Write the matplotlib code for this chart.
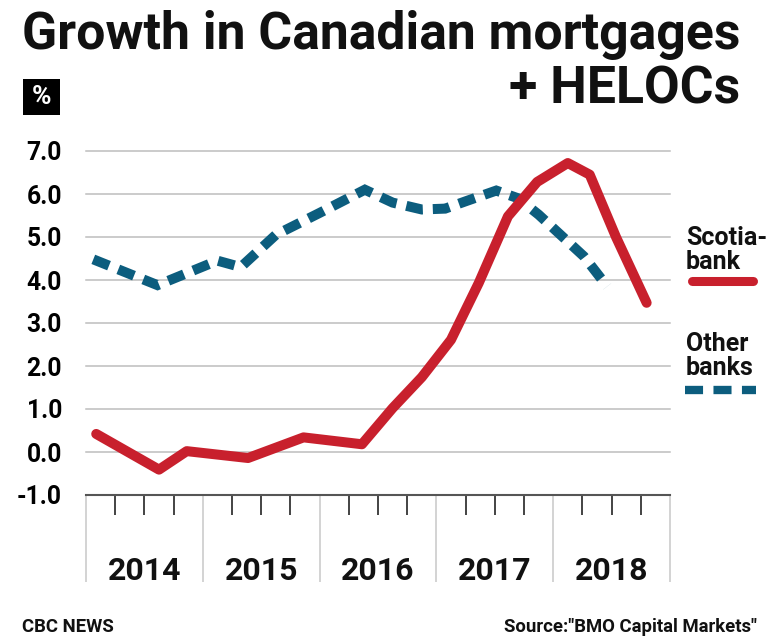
import matplotlib
matplotlib.use("Agg")
import matplotlib.pyplot as plt
from matplotlib.lines import Line2D
from matplotlib.patches import Rectangle
from matplotlib.transforms import blended_transform_factory

plt.rcParams['font.family'] = ['Roboto', 'DejaVu Sans']
plt.rcParams['lines.scale_dashes'] = False

# ---------------- data (x in quarters since start of 2014) ----------------
years = ["2014", "2015", "2016", "2017", "2018"]
y_ticks = [-1, 0, 1, 2, 3, 4, 5, 6, 7]
y_tick_labels = ["-1.0", "0.0", "1.0", "2.0", "3.0", "4.0", "5.0", "6.0", "7.0"]

scotia_x = [0.35, 2.5, 3.45, 5.55, 7.45, 9.45, 10.5, 11.5, 12.5, 13.45, 14.45,
            15.45, 16.5, 17.25, 18.15, 19.2]
scotia_y = [0.42, -0.41, 0.02, -0.14, 0.34, 0.18, 1.02, 1.74, 2.61, 3.93, 5.48,
            6.28, 6.72, 6.45, 5.0, 3.47]

other_x = [0.25, 2.45, 4.5, 5.3, 6.5, 8.0, 9.55, 10.5, 11.5, 12.3, 13.0, 14.05,
           14.8, 15.5, 17.05, 17.85]
other_y = [4.48, 3.88, 4.45, 4.3, 5.05, 5.56, 6.1, 5.8, 5.64, 5.66, 5.83, 6.08,
           5.9, 5.52, 4.55, 3.85]

legend_labels = ["Scotia-\nbank", "Other\nbanks"]

RED = "#C8202D"
BLUE = "#0C5D7E"
W, H = 780, 644

fig = plt.figure(figsize=(W / 100, H / 100), dpi=100)
fig.patch.set_facecolor("white")

def fx(px):
    return px / W

def fy(py):
    return 1 - py / H

ax = fig.add_axes([fx(86), fy(495), (670 - 86) / W, (495 - 151) / H])
ax.set_xlim(0, 4 * len(years))
ax.set_ylim(-1, 7)
for s in ax.spines.values():
    s.set_visible(False)
ax.set_facecolor("none")

# gridlines
for v in y_ticks[1:]:
    ax.axhline(v, color="#BDBDBD", lw=1.1, zorder=1, clip_on=False)
ax.axhline(-1, color="#555555", lw=1.5, zorder=4, clip_on=False)

# y ticks
ax.set_yticks(y_ticks)
ax.set_yticklabels(y_tick_labels, fontsize=17.7, fontweight="bold")
ax.tick_params(axis="y", length=0, pad=17.3)

# x ticks: year boundaries (long light grey) and quarter ticks (short black)
n_q = 4 * len(years)
ax.set_xticks(list(range(0, n_q + 1, 4)))
ax.set_xticklabels([])
ax.set_xticks([q for q in range(n_q) if q % 4 != 0], minor=True)
ax.tick_params(axis="x", which="major", length=62.6, width=1.1, color="#C8C8C8",
               direction="out")
ax.tick_params(axis="x", which="minor", length=14.4, width=1.1, color="#111111",
               direction="out")

trans = blended_transform_factory(ax.transData, fig.transFigure)
for i, yr in enumerate(years):
    ax.text(4 * i + 2, fy(580.5), yr, transform=trans, ha="center", va="baseline",
            fontsize=23, fontweight="bold", color="#111111")

# data lines
ax.plot(other_x, other_y, color=BLUE, lw=7.2, dashes=(12.2, 7.2),
        dash_capstyle="butt", dash_joinstyle="miter", zorder=5, clip_on=False)
ax.plot(scotia_x, scotia_y, color=RED, lw=7.2, solid_capstyle="round",
        solid_joinstyle="round", zorder=6, clip_on=False)

# title
fig.text(fx(22), fy(49.5), "Growth in Canadian mortgages", fontsize=37.3,
         fontweight="bold", ha="left", va="baseline", color="#111111")
fig.text(fx(740), fy(104), "+ HELOCs", fontsize=37.3, fontweight="bold",
         ha="right", va="baseline", color="#111111")

# % box
fig.add_artist(Rectangle((fx(23.3), fy(115)), (60 - 23.3) / W, (115 - 79) / H,
                         transform=fig.transFigure, facecolor="black",
                         edgecolor="none"))
fig.text(fx(41.7), fy(97.5), "%", fontsize=19, fontweight="bold", color="white",
         ha="center", va="center")

# legend (baseline given for the last line of each label)
for txt, base in zip(legend_labels, [269, 375]):
    fig.text(fx(686), fy(base), txt, fontsize=18, fontweight="bold",
             linespacing=0.98, ha="left", va="baseline", color="#111111")
fig.add_artist(Line2D([fx(692), fx(753)], [fy(281), fy(281)], transform=fig.transFigure,
                      color=RED, lw=6.5, solid_capstyle="round"))
fig.add_artist(Line2D([fx(685), fx(756)], [fy(390), fy(390)], transform=fig.transFigure,
                      color=BLUE, lw=6.0, dashes=(13, 7.5), dash_capstyle="butt"))

# footer
fig.text(fx(22), fy(632), "CBC NEWS", fontsize=13.3, fontweight="bold",
         ha="left", va="baseline", color="#111111")
fig.text(fx(757), fy(632), 'Source:"BMO Capital Markets"', fontsize=13.3,
         fontweight="bold", ha="right", va="baseline", color="#111111")

fig.savefig("out.png", dpi=100, facecolor="white")
